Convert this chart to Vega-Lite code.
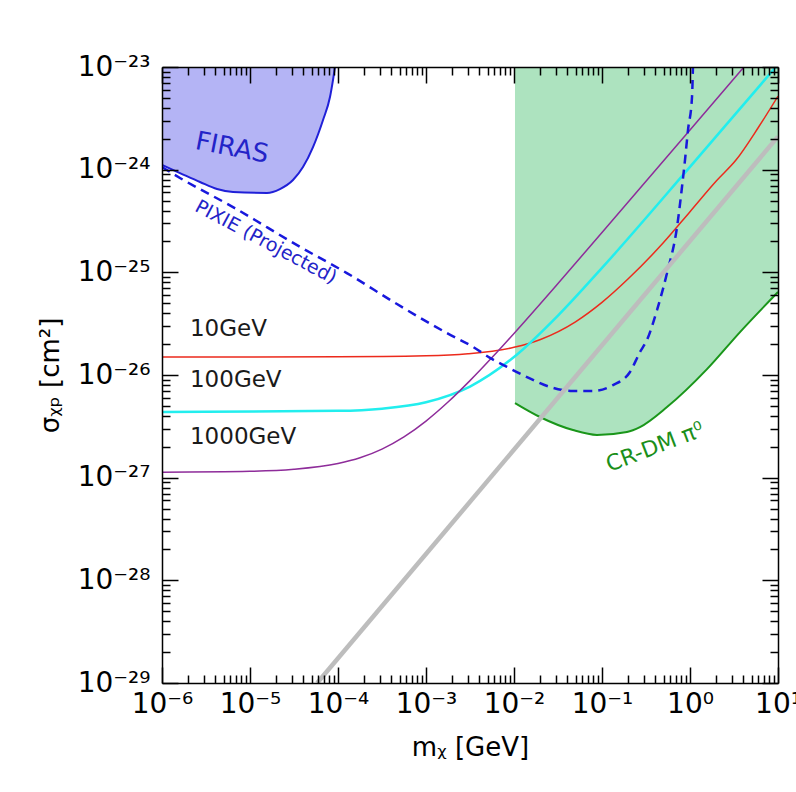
{
  "$schema": "https://vega.github.io/schema/vega-lite/v6.json",
  "width": 616,
  "height": 616,
  "autosize": {"type": "none"},
  "padding": {"left": 162, "top": 67, "right": 18, "bottom": 109},
  "background": "white",
  "config": {"view": {"stroke": null}, "font": "DejaVu Sans"},
  "datasets": {
    "firas": [
      {"m": 1e-6, "s": 1.11e-24}, {"m": 1.6e-6, "s": 9.27e-25}, {"m": 2.7e-6, "s": 7.59e-25},
      {"m": 4.22e-6, "s": 6.47e-25}, {"m": 6.41e-6, "s": 6.05e-25}, {"m": 1.56e-5, "s": 5.93e-25},
      {"m": 2.19e-5, "s": 6.47e-25}, {"m": 3.08e-5, "s": 7.92e-25}, {"m": 4.0e-5, "s": 1.06e-24},
      {"m": 5.2e-5, "s": 1.66e-24}, {"m": 6.76e-5, "s": 3.05e-24}, {"m": 8.11e-5, "s": 5.1e-24},
      {"m": 8.77e-5, "s": 7.46e-24}, {"m": 9.24e-5, "s": 1e-23}
    ],
    "crdm": [
      {"m": 0.01026, "s": 5.33e-27}, {"m": 0.0197, "s": 3.9e-27}, {"m": 0.0468, "s": 2.91e-27},
      {"m": 0.0877, "s": 2.61e-27}, {"m": 0.192, "s": 2.79e-27}, {"m": 0.27, "s": 3.11e-27},
      {"m": 0.548, "s": 4.87e-27}, {"m": 1.56, "s": 1.14e-26}, {"m": 3.7, "s": 2.62e-26},
      {"m": 10, "s": 6.43e-26}
    ],
    "pixie": [
      {"m": 1e-6, "s": 1.06e-24}, {"m": 1.6e-6, "s": 8.3e-25}, {"m": 6.41e-6, "s": 4.32e-25},
      {"m": 3.7e-5, "s": 1.77e-25}, {"m": 1.26e-4, "s": 9.84e-26}, {"m": 4.68e-4, "s": 4.91e-26},
      {"m": 1.73e-3, "s": 2.56e-26}, {"m": 3.42e-3, "s": 1.88e-26}, {"m": 5.33e-3, "s": 1.47e-26},
      {"m": 8.32e-3, "s": 1.2e-26}, {"m": 0.01406, "s": 9.54e-27}, {"m": 0.02566, "s": 7.64e-27},
      {"m": 0.0468, "s": 6.98e-27}, {"m": 0.0791, "s": 6.98e-27}, {"m": 0.1334, "s": 7.97e-27},
      {"m": 0.208, "s": 1.07e-26}, {"m": 0.27, "s": 1.67e-26}, {"m": 0.324, "s": 2.19e-26},
      {"m": 0.4217, "s": 4.29e-26}, {"m": 0.548, "s": 9.84e-26}, {"m": 0.712, "s": 2.76e-25},
      {"m": 0.811, "s": 6.78e-25}, {"m": 0.877, "s": 1.24e-24}, {"m": 0.949, "s": 2.43e-24},
      {"m": 1.054, "s": 5.1e-24}, {"m": 1.08, "s": 1e-23}
    ],
    "curves": [
      {"series": "10GeV", "m": 1e-6, "s": 1.5e-26}, {"series": "10GeV", "m": 1e-4, "s": 1.504e-26},
      {"series": "10GeV", "m": 1e-3, "s": 1.536e-26}, {"series": "10GeV", "m": 3e-3, "s": 1.608e-26},
      {"series": "10GeV", "m": 0.01, "s": 1.86e-26}, {"series": "10GeV", "m": 0.02, "s": 2.22e-26},
      {"series": "10GeV", "m": 0.05, "s": 3.3e-26}, {"series": "10GeV", "m": 0.1, "s": 5.1e-26},
      {"series": "10GeV", "m": 0.2, "s": 8.7e-26}, {"series": "10GeV", "m": 0.5, "s": 1.95e-25},
      {"series": "10GeV", "m": 1, "s": 3.9e-25}, {"series": "10GeV", "m": 2, "s": 7.8e-25},
      {"series": "10GeV", "m": 3.33, "s": 1.24e-24}, {"series": "10GeV", "m": 6, "s": 2.59e-24},
      {"series": "10GeV", "m": 10, "s": 5.2e-24},
      {"series": "100GeV", "m": 1e-6, "s": 4.37e-27}, {"series": "100GeV", "m": 1e-4, "s": 4.48e-27},
      {"series": "100GeV", "m": 3.16e-4, "s": 4.7e-27}, {"series": "100GeV", "m": 1e-3, "s": 5.43e-27},
      {"series": "100GeV", "m": 3.16e-3, "s": 7.72e-27}, {"series": "100GeV", "m": 0.01, "s": 1.497e-26},
      {"series": "100GeV", "m": 0.0316, "s": 3.79e-26}, {"series": "100GeV", "m": 0.1, "s": 1.104e-25},
      {"series": "100GeV", "m": 1, "s": 1.064e-24}, {"series": "100GeV", "m": 10, "s": 1.06e-23},
      {"series": "1000GeV", "m": 1e-6, "s": 1.132e-27}, {"series": "1000GeV", "m": 1e-5, "s": 1.154e-27},
      {"series": "1000GeV", "m": 3.16e-5, "s": 1.207e-27}, {"series": "1000GeV", "m": 1e-4, "s": 1.373e-27},
      {"series": "1000GeV", "m": 1.78e-4, "s": 1.562e-27}, {"series": "1000GeV", "m": 3.16e-4, "s": 1.898e-27},
      {"series": "1000GeV", "m": 5.62e-4, "s": 2.496e-27}, {"series": "1000GeV", "m": 1e-3, "s": 3.56e-27},
      {"series": "1000GeV", "m": 1.78e-3, "s": 5.45e-27}, {"series": "1000GeV", "m": 3.16e-3, "s": 8.81e-27},
      {"series": "1000GeV", "m": 5.62e-3, "s": 1.479e-26}, {"series": "1000GeV", "m": 0.01, "s": 2.543e-26},
      {"series": "1000GeV", "m": 0.0316, "s": 7.79e-26}, {"series": "1000GeV", "m": 0.1, "s": 2.44e-25},
      {"series": "1000GeV", "m": 1, "s": 2.43e-24}, {"series": "1000GeV", "m": 4.1, "s": 1e-23}
    ],
    "gray": [
      {"m": 5.8e-5, "s": 1e-29}, {"m": 10, "s": 2.1e-24}
    ]
  },
  "layer": [
    {
      "encoding": {
        "x": {
          "field": "m", "type": "quantitative",
          "scale": {"type": "log", "domain": [1e-6, 10], "nice": false},
          "axis": {
            "orient": "bottom",
            "values": [1e-6,2e-6,3e-6,4e-6,5e-6,6e-6,7e-6,8e-6,9e-6,1e-5,2e-5,3e-5,4e-5,5e-5,6e-5,7e-5,8e-5,9e-5,1e-4,2e-4,3e-4,4e-4,5e-4,6e-4,7e-4,8e-4,9e-4,1e-3,2e-3,3e-3,4e-3,5e-3,6e-3,7e-3,8e-3,9e-3,1e-2,2e-2,3e-2,4e-2,5e-2,6e-2,7e-2,8e-2,9e-2,0.1,0.2,0.3,0.4,0.5,0.6,0.7,0.8,0.9,1,2,3,4,5,6,7,8,9,10],
            "labelExpr": "abs(log(datum.value)/LN10-round(log(datum.value)/LN10))>0.01 ? '' : ['10⁻⁶','10⁻⁵','10⁻⁴','10⁻³','10⁻²','10⁻¹','10⁰','10¹'][round(log(datum.value)/LN10)+6]",
            "tickSize": {"condition": {"test": "abs(log(datum.value)/LN10-round(log(datum.value)/LN10))<0.01", "value": -16}, "value": -8},
            "tickColor": "black", "tickWidth": 1.5,
            "domainColor": "black", "domainWidth": 1.5,
            "labelFont": "DejaVu Sans", "labelFontSize": 28, "labelColor": "black",
            "labelPadding": 23, "labelFlush": false, "labelOverlap": false, "labelBound": false,
            "grid": false, "zindex": 1,
            "title": "mᵪ [GeV]", "titleFont": "DejaVu Sans", "titleFontSize": 26,
            "titleFontWeight": "normal", "titleColor": "black", "titlePadding": 8
          }
        },
        "y": {
          "field": "s", "type": "quantitative",
          "scale": {"type": "log", "domain": [1e-29, 1e-23], "nice": false},
          "axis": {
            "orient": "left",
            "values": [1e-29,2e-29,3e-29,4e-29,5e-29,6e-29,7e-29,8e-29,9e-29,1e-28,2e-28,3e-28,4e-28,5e-28,6e-28,7e-28,8e-28,9e-28,1e-27,2e-27,3e-27,4e-27,5e-27,6e-27,7e-27,8e-27,9e-27,1e-26,2e-26,3e-26,4e-26,5e-26,6e-26,7e-26,8e-26,9e-26,1e-25,2e-25,3e-25,4e-25,5e-25,6e-25,7e-25,8e-25,9e-25,1e-24,2e-24,3e-24,4e-24,5e-24,6e-24,7e-24,8e-24,9e-24,1e-23],
            "labelExpr": "abs(log(datum.value)/LN10-round(log(datum.value)/LN10))>0.01 ? '' : ['10⁻²⁹','10⁻²⁸','10⁻²⁷','10⁻²⁶','10⁻²⁵','10⁻²⁴','10⁻²³'][round(log(datum.value)/LN10)+29]",
            "tickSize": {"condition": {"test": "abs(log(datum.value)/LN10-round(log(datum.value)/LN10))<0.01", "value": -16}, "value": -8},
            "tickColor": "black", "tickWidth": 1.5,
            "domainColor": "black", "domainWidth": 1.5,
            "labelFont": "DejaVu Sans", "labelFontSize": 28, "labelColor": "black",
            "labelPadding": 28, "labelFlush": false, "labelOverlap": false, "labelBound": false,
            "grid": false, "zindex": 1,
            "title": "σᵪₚ [cm²]", "titleFont": "DejaVu Sans", "titleFontSize": 26,
            "titleFontWeight": "normal", "titleColor": "black", "titlePadding": 14
          }
        }
      },
      "layer": [
        {"data": {"name": "firas"}, "mark": {"type": "area", "color": "#b4b4f5", "opacity": 1, "interpolate": "monotone", "clip": true}, "encoding": {"y2": {"datum": 1e-23}}},
        {"data": {"name": "crdm"}, "mark": {"type": "area", "color": "#ade3bf", "opacity": 1, "interpolate": "monotone", "clip": true}, "encoding": {"y2": {"datum": 1e-23}}},
        {"data": {"name": "firas"}, "mark": {"type": "line", "color": "#2020d8", "strokeWidth": 2, "interpolate": "monotone", "clip": true}},
        {"data": {"name": "crdm"}, "mark": {"type": "line", "color": "#1a961a", "strokeWidth": 2, "interpolate": "monotone", "clip": true}},
        {"data": {"name": "curves"}, "transform": [{"filter": "datum.series == '10GeV'"}], "mark": {"type": "line", "color": "#ec2a1c", "strokeWidth": 1.5, "interpolate": "monotone", "clip": true}},
        {"data": {"name": "curves"}, "transform": [{"filter": "datum.series == '100GeV'"}], "mark": {"type": "line", "color": "#22eeee", "strokeWidth": 2.5, "interpolate": "monotone", "clip": true}},
        {"data": {"name": "curves"}, "transform": [{"filter": "datum.series == '1000GeV'"}], "mark": {"type": "line", "color": "#8e2c9a", "strokeWidth": 1.5, "interpolate": "monotone", "clip": true}},
        {"data": {"name": "pixie"}, "mark": {"type": "line", "color": "#1818dd", "strokeWidth": 2.5, "strokeDash": [9, 6], "interpolate": "monotone", "clip": true}},
        {"data": {"values": [{"label": "FIRAS", "m": 6.24e-6, "s": 1.63e-24}]}, "mark": {"type": "text", "angle": 11, "fontSize": 26, "color": "#2323c8", "font": "DejaVu Sans", "align": "center", "baseline": "middle"}, "encoding": {"text": {"field": "label"}}},
        {"data": {"values": [{"label": "PIXIE (Projected)", "m": 1.52e-5, "s": 1.97e-25}]}, "mark": {"type": "text", "angle": 28, "fontSize": 19, "color": "#2323c8", "font": "DejaVu Sans", "align": "center", "baseline": "middle"}, "encoding": {"text": {"field": "label"}}},
        {"data": {"values": [{"label": "10GeV", "m": 2.08e-6, "s": 2.81e-26}, {"label": "100GeV", "m": 2.08e-6, "s": 8.93e-27}, {"label": "1000GeV", "m": 2.08e-6, "s": 2.49e-27}]}, "mark": {"type": "text", "fontSize": 23, "color": "#1a1a1a", "font": "DejaVu Sans", "align": "left", "baseline": "middle"}, "encoding": {"text": {"field": "label"}}},
        {"data": {"values": [{"label": "CR-DM π⁰", "m": 0.40, "s": 1.99e-27}]}, "mark": {"type": "text", "angle": -21, "fontSize": 22, "color": "#1a8f1a", "font": "DejaVu Sans", "align": "center", "baseline": "middle"}, "encoding": {"text": {"field": "label"}}}
      ]
    },
    {
      "data": {"name": "gray"},
      "mark": {"type": "line", "color": "#bdbdbd", "strokeWidth": 4.5, "clip": true},
      "encoding": {
        "x": {
          "field": "m", "type": "quantitative",
          "scale": {"type": "log", "domain": [1e-6, 10], "nice": false},
          "axis": {
            "orient": "top",
            "values": [1e-6,2e-6,3e-6,4e-6,5e-6,6e-6,7e-6,8e-6,9e-6,1e-5,2e-5,3e-5,4e-5,5e-5,6e-5,7e-5,8e-5,9e-5,1e-4,2e-4,3e-4,4e-4,5e-4,6e-4,7e-4,8e-4,9e-4,1e-3,2e-3,3e-3,4e-3,5e-3,6e-3,7e-3,8e-3,9e-3,1e-2,2e-2,3e-2,4e-2,5e-2,6e-2,7e-2,8e-2,9e-2,0.1,0.2,0.3,0.4,0.5,0.6,0.7,0.8,0.9,1,2,3,4,5,6,7,8,9,10],
            "labels": false,
            "tickSize": {"condition": {"test": "abs(log(datum.value)/LN10-round(log(datum.value)/LN10))<0.01", "value": -16}, "value": -8},
            "tickColor": "black", "tickWidth": 1.5,
            "domainColor": "black", "domainWidth": 1.5,
            "grid": false, "zindex": 1, "title": null
          }
        },
        "y": {
          "field": "s", "type": "quantitative",
          "scale": {"type": "log", "domain": [1e-29, 1e-23], "nice": false},
          "axis": {
            "orient": "right",
            "values": [1e-29,2e-29,3e-29,4e-29,5e-29,6e-29,7e-29,8e-29,9e-29,1e-28,2e-28,3e-28,4e-28,5e-28,6e-28,7e-28,8e-28,9e-28,1e-27,2e-27,3e-27,4e-27,5e-27,6e-27,7e-27,8e-27,9e-27,1e-26,2e-26,3e-26,4e-26,5e-26,6e-26,7e-26,8e-26,9e-26,1e-25,2e-25,3e-25,4e-25,5e-25,6e-25,7e-25,8e-25,9e-25,1e-24,2e-24,3e-24,4e-24,5e-24,6e-24,7e-24,8e-24,9e-24,1e-23],
            "labels": false,
            "tickSize": {"condition": {"test": "abs(log(datum.value)/LN10-round(log(datum.value)/LN10))<0.01", "value": -16}, "value": -8},
            "tickColor": "black", "tickWidth": 1.5,
            "domainColor": "black", "domainWidth": 1.5,
            "grid": false, "zindex": 1, "title": null
          }
        }
      }
    }
  ],
  "resolve": {"axis": {"x": "independent", "y": "independent"}}
}
